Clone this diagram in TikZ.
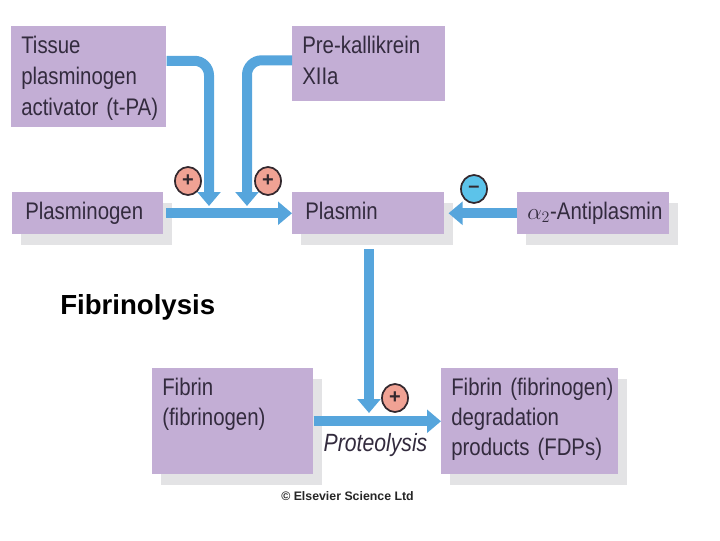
\documentclass[tikz,border=0pt]{standalone}
\usepackage{amsmath}
\usepackage{fontspec}
\usepackage{tikz}
\usetikzlibrary{arrows.meta,shadows,shapes.geometric}
\setmainfont{Liberation Sans}
\newfontfamily\narrowfont[FakeStretch=0.85]{Liberation Sans}
\newcommand{\boxline}[1]{\mbox{#1}}
\definecolor{boxpurple}{HTML}{C3AED5}
\definecolor{boxgrey}{HTML}{E3E3E5}
\definecolor{flowblue}{HTML}{56A5DC}
\definecolor{plusred}{HTML}{F0A294}
\definecolor{minusblue}{HTML}{5CC3EA}
\definecolor{signline}{HTML}{33282E}
\definecolor{inkdark}{HTML}{332B3E}
\tikzset{
  box/.style={fill=boxpurple, anchor=north west, align=left, inner xsep=7.5pt, inner ysep=0pt,
    text=inkdark, text height=20.25pt, font=\narrowfont\fontsize{18}{23.25}\selectfont},
  boxshadow/.style={general shadow={fill=boxgrey, shadow xshift=6.75pt, shadow yshift=-8.25pt}},
  flow/.style={draw=flowblue, line width=7.5pt, -{Triangle[width=17pt,length=10.5pt]}, flowblue},
  sign/.style={ellipse, draw=signline, line width=1.3pt, minimum width=19.5pt, minimum height=21pt,
    inner sep=0pt, text=signline, font=\bfseries\fontsize{15}{15}\selectfont},
  plus/.style={sign, fill=plusred},
  minus/.style={sign, fill=minusblue}
}
\begin{document}
\begin{tikzpicture}[x=0.75pt, y=0.75pt]
        \useasboundingbox (0,0) rectangle (720,540);

        \node [box, text width=101.25pt, text depth=55.5pt] (tpa) at (11,514) {Tissue\\plasminogen\\\boxline{activator (t-PA)}};
        \node [box, text width=99.75pt, text depth=36pt] (pre) at (292,514) {Pre-kallikrein\\XIIa};
        \node [box, boxshadow, inner xsep=9.75pt, text width=93.75pt, text depth=11.25pt] (plg) at (12,348) {Plasminogen};
        \node [box, boxshadow, inner xsep=9.75pt, text width=94.5pt, text depth=11.25pt] (plm) at (292,348) {Plasmin};
        \node [box, boxshadow, text width=99pt, text depth=11.25pt] (anti) at (517,348) {\boxline{$\alpha_2$-Antiplasmin}};
        \node [box, boxshadow, text width=105.75pt, text depth=59.25pt] (fib) at (152,172) {Fibrin\\[-0.75pt](fibrinogen)};
        \node [box, boxshadow, text width=117.75pt, text depth=59.25pt] (fdp) at (441,172) {\boxline{Fibrin (fibrinogen)}\\[-0.75pt]degradation\\[-0.75pt]\boxline{products (FDPs)}};

        \coordinate (tpaend) at (209,334);
        \coordinate (preend) at (247,334);
        \coordinate (plmend) at (369,127);

        \draw [flow, rounded corners=11pt] ([yshift=12pt]tpa.east) -| (tpaend);
        \draw [flow, rounded corners=11pt] ([yshift=2.6pt]pre.west) -| (preend);
        \draw [flow, shorten <=2pt] (plg) -- (plm);
        \draw [flow, shorten >=3pt] (anti) -- (plm);
        \draw [flow, shorten <=11pt] (plm.south -| plmend) -- (plmend);
        \draw [flow] (fib) -- (fdp);

        \node [plus] (s1) at (188,359) {+};
        \node [plus] (s2) at (268,359) {+};
        \node [minus] (s3) at (474,351) {--};
        \node [plus] (s4) at (395,142) {+};

        \node [text=inkdark, font=\narrowfont\itshape\fontsize{18.7}{18.7}\selectfont, inner sep=0pt, anchor=base] (prot) at (375.5,89) {Proteolysis};
        \node [text=black!85, font=\bfseries\fontsize{9.25}{9.25}\selectfont, inner sep=0pt, anchor=base] (els) at (347.5,40) {© Elsevier Science Ltd};
        \node [text=black, font=\bfseries\fontsize{20.7}{20.7}\selectfont, inner sep=0pt, anchor=base west] (title) at (60,226) {Fibrinolysis};
      \end{tikzpicture}
\end{document}
